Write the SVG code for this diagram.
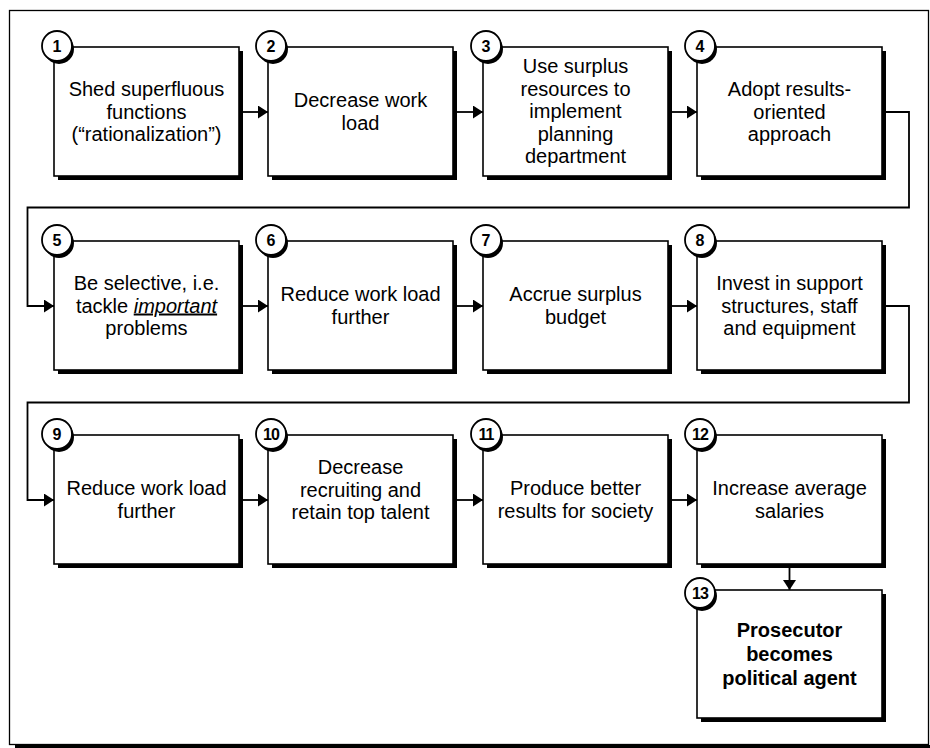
<svg xmlns="http://www.w3.org/2000/svg" width="930" height="748" viewBox="0 0 930 748">
  <style>
    .frame { fill: none; stroke: #000; stroke-width: 1.3; }
    .shadow { fill: #000; }
    .box { fill: #fff; stroke: #000; stroke-width: 1.6; }
    .badge { fill: #fff; stroke: #000; stroke-width: 1.8; }
    .num { font-family: "Liberation Sans", Arial, sans-serif; font-size: 16px; font-weight: bold; text-anchor: middle; fill: #000; }
    .lbl { font-family: "Liberation Sans", Arial, sans-serif; font-size: 20px; text-anchor: middle; fill: #000; }
    .strong { font-weight: bold; }
    .conn { fill: none; stroke: #000; stroke-width: 1.8; }
  </style>
  <defs>
    <marker id="arrow" markerUnits="userSpaceOnUse" markerWidth="11" markerHeight="14" refX="10" refY="6.5" orient="auto">
      <path d="M0,0 L10,6.5 L0,13 z" fill="#000"/>
    </marker>
  </defs>

  <rect width="930" height="748" fill="#fff"/>

  <!-- outer frame with bottom shadow -->
  <rect class="frame" x="9.5" y="10.5" width="919" height="734"/>
  <line x1="15" y1="746.5" x2="930" y2="746.5" stroke="#000" stroke-width="3"/>

  <!-- connectors -->
  <g id="connectors">
    <path class="conn" d="M243,112 H268" marker-end="url(#arrow)"/>
    <path class="conn" d="M457,112 H483" marker-end="url(#arrow)"/>
    <path class="conn" d="M672,112 H697" marker-end="url(#arrow)"/>
    <path class="conn" d="M886,112 H909 V207.5 H27.5 V306 H54" marker-end="url(#arrow)"/>
    <path class="conn" d="M243,306 H268" marker-end="url(#arrow)"/>
    <path class="conn" d="M457,306 H483" marker-end="url(#arrow)"/>
    <path class="conn" d="M672,306 H697" marker-end="url(#arrow)"/>
    <path class="conn" d="M886,306 H909 V402.5 H27.5 V500 H54" marker-end="url(#arrow)"/>
    <path class="conn" d="M243,500 H268" marker-end="url(#arrow)"/>
    <path class="conn" d="M457,500 H483" marker-end="url(#arrow)"/>
    <path class="conn" d="M672,500 H697" marker-end="url(#arrow)"/>
    <path class="conn" d="M789.5,568 V590" marker-end="url(#arrow)"/>
  </g>

  <!-- row 1 -->
  <g id="step1">
    <rect class="shadow" x="58" y="51" width="185" height="129"/>
    <rect class="box" x="54" y="47" width="185" height="129"/>
    <circle class="shadow" cx="59" cy="49" r="15"/>
    <circle class="badge" cx="57" cy="46" r="15"/>
    <text class="num" x="57" y="51.5">1</text>
    <text class="lbl"><tspan x="146.5" y="96">Shed superfluous</tspan><tspan x="146.5" y="118.5">functions</tspan><tspan x="146.5" y="141">(“rationalization”)</tspan></text>
  </g>
  <g id="step2">
    <rect class="shadow" x="272" y="51" width="185" height="129"/>
    <rect class="box" x="268" y="47" width="185" height="129"/>
    <circle class="shadow" cx="273" cy="49" r="15"/>
    <circle class="badge" cx="271" cy="46" r="15"/>
    <text class="num" x="271" y="51.5">2</text>
    <text class="lbl"><tspan x="360.5" y="107">Decrease work</tspan><tspan x="360.5" y="130">load</tspan></text>
  </g>
  <g id="step3">
    <rect class="shadow" x="487" y="51" width="185" height="129"/>
    <rect class="box" x="483" y="47" width="185" height="129"/>
    <circle class="shadow" cx="488" cy="49" r="15"/>
    <circle class="badge" cx="486" cy="46" r="15"/>
    <text class="num" x="486" y="51.5">3</text>
    <text class="lbl"><tspan x="575.5" y="73">Use surplus</tspan><tspan x="575.5" y="95.5">resources to</tspan><tspan x="575.5" y="118">implement</tspan><tspan x="575.5" y="140.5">planning</tspan><tspan x="575.5" y="163">department</tspan></text>
  </g>
  <g id="step4">
    <rect class="shadow" x="701" y="51" width="185" height="129"/>
    <rect class="box" x="697" y="47" width="185" height="129"/>
    <circle class="shadow" cx="702" cy="49" r="15"/>
    <circle class="badge" cx="700" cy="46" r="15"/>
    <text class="num" x="700" y="51.5">4</text>
    <text class="lbl"><tspan x="789.5" y="96">Adopt results-</tspan><tspan x="789.5" y="118.5">oriented</tspan><tspan x="789.5" y="141">approach</tspan></text>
  </g>

  <!-- row 2 -->
  <g id="step5">
    <rect class="shadow" x="58" y="245" width="185" height="129"/>
    <rect class="box" x="54" y="241" width="185" height="129"/>
    <circle class="shadow" cx="59" cy="243" r="15"/>
    <circle class="badge" cx="57" cy="240" r="15"/>
    <text class="num" x="57" y="245.5">5</text>
    <text class="lbl"><tspan x="146.5" y="290">Be selective, i.e.</tspan><tspan x="146.5" y="312.5">tackle <tspan font-style="italic" text-decoration="underline">important</tspan></tspan><tspan x="146.5" y="335">problems</tspan></text>
  </g>
  <g id="step6">
    <rect class="shadow" x="272" y="245" width="185" height="129"/>
    <rect class="box" x="268" y="241" width="185" height="129"/>
    <circle class="shadow" cx="273" cy="243" r="15"/>
    <circle class="badge" cx="271" cy="240" r="15"/>
    <text class="num" x="271" y="245.5">6</text>
    <text class="lbl"><tspan x="360.5" y="301">Reduce work load</tspan><tspan x="360.5" y="324">further</tspan></text>
  </g>
  <g id="step7">
    <rect class="shadow" x="487" y="245" width="185" height="129"/>
    <rect class="box" x="483" y="241" width="185" height="129"/>
    <circle class="shadow" cx="488" cy="243" r="15"/>
    <circle class="badge" cx="486" cy="240" r="15"/>
    <text class="num" x="486" y="245.5">7</text>
    <text class="lbl"><tspan x="575.5" y="301">Accrue surplus</tspan><tspan x="575.5" y="324">budget</tspan></text>
  </g>
  <g id="step8">
    <rect class="shadow" x="701" y="245" width="185" height="129"/>
    <rect class="box" x="697" y="241" width="185" height="129"/>
    <circle class="shadow" cx="702" cy="243" r="15"/>
    <circle class="badge" cx="700" cy="240" r="15"/>
    <text class="num" x="700" y="245.5">8</text>
    <text class="lbl"><tspan x="789.5" y="290">Invest in support</tspan><tspan x="789.5" y="312.5">structures, staff</tspan><tspan x="789.5" y="335">and equipment</tspan></text>
  </g>

  <!-- row 3 -->
  <g id="step9">
    <rect class="shadow" x="58" y="439" width="185" height="129"/>
    <rect class="box" x="54" y="435" width="185" height="129"/>
    <circle class="shadow" cx="59" cy="437" r="15"/>
    <circle class="badge" cx="57" cy="434" r="15"/>
    <text class="num" x="57" y="439.5">9</text>
    <text class="lbl"><tspan x="146.5" y="495">Reduce work load</tspan><tspan x="146.5" y="518">further</tspan></text>
  </g>
  <g id="step10">
    <rect class="shadow" x="272" y="439" width="185" height="129"/>
    <rect class="box" x="268" y="435" width="185" height="129"/>
    <circle class="shadow" cx="273" cy="437" r="15"/>
    <circle class="badge" cx="271" cy="434" r="15"/>
    <text class="num" x="271" y="439.5" letter-spacing="-1">10</text>
    <text class="lbl"><tspan x="360.5" y="474">Decrease</tspan><tspan x="360.5" y="496.5">recruiting and</tspan><tspan x="360.5" y="519">retain top talent</tspan></text>
  </g>
  <g id="step11">
    <rect class="shadow" x="487" y="439" width="185" height="129"/>
    <rect class="box" x="483" y="435" width="185" height="129"/>
    <circle class="shadow" cx="488" cy="437" r="15"/>
    <circle class="badge" cx="486" cy="434" r="15"/>
    <text class="num" x="486" y="439.5" letter-spacing="-1">11</text>
    <text class="lbl"><tspan x="575.5" y="495">Produce better</tspan><tspan x="575.5" y="518">results for society</tspan></text>
  </g>
  <g id="step12">
    <rect class="shadow" x="701" y="439" width="185" height="129"/>
    <rect class="box" x="697" y="435" width="185" height="129"/>
    <circle class="shadow" cx="702" cy="437" r="15"/>
    <circle class="badge" cx="700" cy="434" r="15"/>
    <text class="num" x="700" y="439.5" letter-spacing="-1">12</text>
    <text class="lbl"><tspan x="789.5" y="495">Increase average</tspan><tspan x="789.5" y="518">salaries</tspan></text>
  </g>

  <!-- final outcome -->
  <g id="step13">
    <rect class="shadow" x="701" y="594" width="185" height="128"/>
    <rect class="box" x="697" y="590" width="185" height="128"/>
    <circle class="shadow" cx="702" cy="596" r="15"/>
    <circle class="badge" cx="700" cy="593" r="15"/>
    <text class="num" x="700" y="598.5" letter-spacing="-1">13</text>
    <text class="lbl strong"><tspan x="789.5" y="637">Prosecutor</tspan><tspan x="789.5" y="661">becomes</tspan><tspan x="789.5" y="685">political agent</tspan></text>
  </g>
</svg>
